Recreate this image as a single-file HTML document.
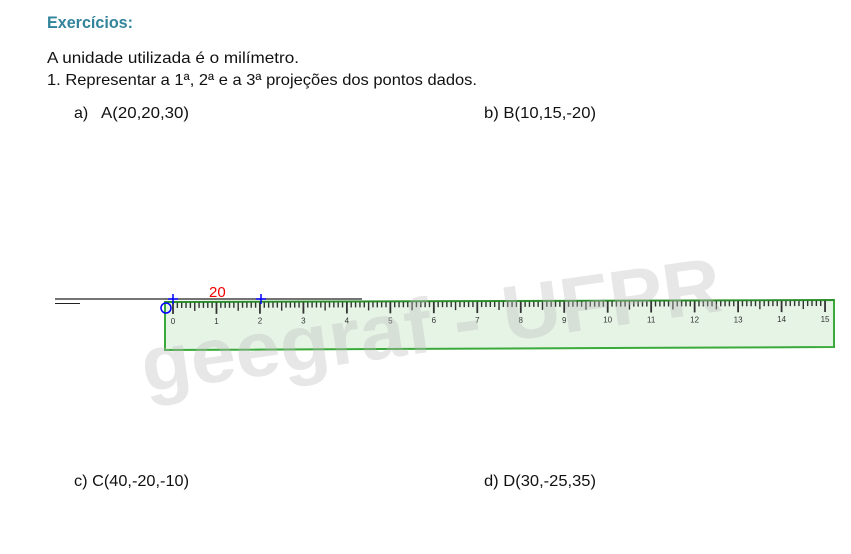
<!DOCTYPE html>
<html><head><meta charset="utf-8"><style>
body{margin:0;background:#fff;}
svg{display:block;font-family:"Liberation Sans",sans-serif;}
</style></head><body>
<svg id="s" width="851" height="554" viewBox="0 0 851 554">
<text x="47" y="28" font-size="17" font-weight="bold" fill="#31849b" textLength="86" lengthAdjust="spacingAndGlyphs">Exercícios:</text>
<text x="47" y="63" font-size="16" fill="#111" textLength="252" lengthAdjust="spacingAndGlyphs">A unidade utilizada é o milímetro.</text>
<text x="47" y="85" font-size="16" fill="#111" textLength="430" lengthAdjust="spacingAndGlyphs">1. Representar a 1ª, 2ª e a 3ª projeções dos pontos dados.</text>
<text x="74" y="118" font-size="16" fill="#111">a)</text>
<text x="101" y="118" font-size="16" fill="#111" textLength="88" lengthAdjust="spacingAndGlyphs">A(20,20,30)</text>
<text x="484" y="118" font-size="16" fill="#111" textLength="112" lengthAdjust="spacingAndGlyphs">b) B(10,15,-20)</text>
<text x="74" y="486" font-size="16" fill="#111" textLength="115" lengthAdjust="spacingAndGlyphs">c) C(40,-20,-10)</text>
<text x="484" y="486" font-size="16" fill="#111" textLength="112" lengthAdjust="spacingAndGlyphs">d) D(30,-25,35)</text>
<g>
<polygon points="165,302 834,300 834,347 165,350" fill="#e6f4e6" stroke="#3aaa3a" stroke-width="2"/>
<g id="ticks"></g>
</g>
<text x="145" y="392" font-size="78" font-weight="bold" fill="#bbb" fill-opacity="0.35" transform="rotate(-8 145 392)" textLength="585" lengthAdjust="spacingAndGlyphs">geegraf - UFPR</text>
<line x1="55" y1="299" x2="362" y2="299" stroke="#222" stroke-width="1.2"/>
<line x1="55" y1="303.5" x2="80" y2="303.5" stroke="#222" stroke-width="1"/>
<text x="209" y="297" font-size="15" fill="#e00">20</text>
<circle cx="166" cy="308" r="5" fill="none" stroke="#00f" stroke-width="1.5"/>
<path d="M168 299h10M173 294v10" stroke="#00f" stroke-width="1.5"/>
<path d="M256 299h10M261 294v10" stroke="#00f" stroke-width="1.5"/>
</svg>
<script>
var g=document.getElementById('ticks');var ns='http://www.w3.org/2000/svg';
var x0=173,cm=43.47;
for(var i=0;i<=150;i++){var x=x0+i*cm/10;var ty=302-0.003*(x-165);
var l=document.createElementNS(ns,'line');


var h=i%10==0?12:(i%5==0?9:6);
l.setAttribute('x1',x);l.setAttribute('x2',x);l.setAttribute('y1',ty);l.setAttribute('y2',ty+h);
l.setAttribute('stroke','#333');l.setAttribute('stroke-width',i%10==0?1.8:1.4);g.appendChild(l);
if(i%10==0){var t=document.createElementNS(ns,'text');


t.setAttribute('x',x);t.setAttribute('y',ty+22);t.setAttribute('font-size','8');t.setAttribute('text-anchor','middle');t.setAttribute('fill','#333');t.textContent=i/10;g.appendChild(t);}}
var top2=document.createElementNS(ns,'line');


top2.setAttribute('x1',165);top2.setAttribute('y1',302);top2.setAttribute('x2',834);top2.setAttribute('y2',300);top2.setAttribute('stroke','#2a8a2a');top2.setAttribute('stroke-width','1.5');g.appendChild(top2);
</script>
</body></html>
